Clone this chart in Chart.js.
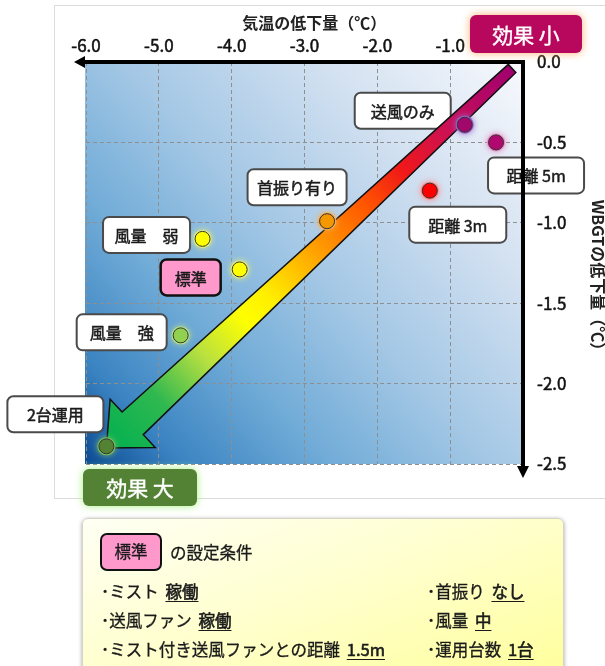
<!DOCTYPE html>
<html lang="ja">
<head>
<meta charset="utf-8">
<script src="https://cdn.jsdelivr.net/npm/chart.js@4.4.1/dist/chart.umd.min.js"></script>
<style>
  body { margin: 0; background: #fff; }
  #wrap { position: relative; width: 605px; height: 666px; overflow: hidden; font-family: "Noto Sans CJK JP", sans-serif; }
  #chart { position: absolute; left: 0; top: 0; }
  #note {
    position: absolute; left: 82px; top: 518px; width: 482px; height: 160px; box-sizing: border-box;
    border: 1px solid #d4d4c4; border-radius: 6px;
    background: linear-gradient(160deg, #fffff4 0%, #ffffcc 50%, #ffff9c 100%);
    box-shadow: 0 1px 4px rgba(0,0,0,.35);
    font-size: 16.5px; color: #1a1a1a; -webkit-text-stroke: 0.3px #1a1a1a;
  }
  #note .std {
    position: absolute; left: 17px; top: 14px; width: 62px; height: 38px; box-sizing: border-box;
    border: 2.5px solid #111; border-radius: 7px; background: #ff99cc;
    text-align: center; line-height: 33px;
  }
  #note .head { position: absolute; left: 87px; top: 19px; line-height: 29px; }
  #note .row { position: absolute; line-height: 29px; white-space: nowrap; }
  #note u { text-underline-offset: 3px; -webkit-text-stroke: 0.6px #1a1a1a; margin-left: 3px; }
</style>
</head>
<body>
<div id="wrap">
  <canvas id="chart" width="605" height="666"></canvas>
  <div id="note">
    <div class="std">標準</div>
    <div class="head">の設定条件</div>
    <div class="row" style="left:18px;top:58px">･ミスト <u>稼働</u></div>
    <div class="row" style="left:18px;top:87px">･送風ファン <u>稼働</u></div>
    <div class="row" style="left:18px;top:116px">･ミスト付き送風ファンとの距離 <u>1.5m</u></div>
    <div class="row" style="left:344px;top:58px">･首振り <u>なし</u></div>
    <div class="row" style="left:344px;top:87px">･風量 <u>中</u></div>
    <div class="row" style="left:344px;top:116px">･運用台数 <u>1台</u></div>
  </div>
</div>
<script>
const FONT = '"Noto Sans CJK JP", sans-serif';

// 条件ごとの低下量
const conditions = ['送風のみ', '距離 5m', '距離 3m', '首振り有り', '風量　弱', '標準', '風量　強', '2台運用'];
const airTempDrop = [-0.80, -0.37, -1.28, -2.69, -4.40, -3.89, -4.70, -5.72];
const wbgtDrop = [-0.39, -0.50, -0.80, -0.99, -1.10, -1.29, -1.70, -2.39];

// 効果の矢印 (始点・終点, データ座標)
const arrowFrom = [-0.15, -0.04];
const arrowTo = [-5.72, -2.40];

// 点の色と光彩
const pointFill = ['#a0086c', '#b0086e', '#ff0000', '#f39800', '#ffff00', '#ffff00', '#92d050', '#548235'];
const pointGlow = ['#9a66cc', '#e68cc4', '#ff8a8a', '#f7ae55', '#e6f07a', '#e6f07a', '#b8e08a', '#7cc060'];

// ラベル枠: 点からのずれ(中心), 幅
const labelOffset = [[-62, -14], [40, 33], [28, 34], [-30, -34], [-56, -4], [-49, 8], [-59, -3], [-51, -32]];
const labelWidth = [96, 96, 97, 99, 87, 60, 90, 96];

function rrect(ctx, x, y, w, h, r) {
  ctx.beginPath();
  ctx.moveTo(x + r, y);
  ctx.arcTo(x + w, y, x + w, y + h, r);
  ctx.arcTo(x + w, y + h, x, y + h, r);
  ctx.arcTo(x, y + h, x, y, r);
  ctx.arcTo(x, y, x + w, y, r);
  ctx.closePath();
}

// 少し太めに見せる文字描画
function heavyText(ctx, text, x, y, color, width) {
  ctx.fillStyle = color;
  ctx.strokeStyle = color;
  ctx.lineWidth = width;
  ctx.lineJoin = 'round';
  ctx.strokeText(text, x, y);
  ctx.fillText(text, x, y);
}

const backdrop = {
  id: 'backdrop',
  beforeDraw(chart) {
    const { ctx, chartArea: a } = chart;
    ctx.save();
    ctx.strokeStyle = '#dcdcdc';
    ctx.lineWidth = 1;
    ctx.strokeRect(54.5, 5.5, 700, 493);
    const g = ctx.createLinearGradient(a.left, a.bottom, a.right, a.top);
    g.addColorStop(0, '#0b4a94');
    g.addColorStop(0.12, '#3b84c2');
    g.addColorStop(0.3, '#70abd7');
    g.addColorStop(0.5, '#a3c7e5');
    g.addColorStop(0.75, '#d3e1f1');
    g.addColorStop(1, '#f8f9fd');
    ctx.fillStyle = g;
    ctx.fillRect(a.left - 1, a.top, a.width + 1, a.height);
    ctx.restore();
  }
};

const decorations = {
  id: 'decorations',
  beforeDatasetsDraw(chart) {
    const { ctx, scales: { x, y } } = chart;
    const pts = chart.getDatasetMeta(0).data;
    ctx.save();

    // ラベル枠
    pts.forEach((p, i) => {
      const w = labelWidth[i], h = 36;
      const cx = p.x + labelOffset[i][0], cy = p.y + labelOffset[i][1];
      const std = conditions[i] === '標準';
      rrect(ctx, cx - w / 2, cy - h / 2, w, h, 6);
      ctx.fillStyle = std ? '#ff99cc' : '#fff';
      ctx.fill();
      ctx.lineWidth = std ? 2.5 : 2;
      ctx.strokeStyle = std ? '#111' : '#4a4a4a';
      ctx.stroke();
      ctx.font = '16px ' + FONT;
      ctx.textAlign = 'center';
      ctx.textBaseline = 'middle';
      heavyText(ctx, conditions[i], cx, cy + 1, '#1a1a1a', 0.5);
    });

    // グラデーション矢印
    const sx = x.getPixelForValue(arrowFrom[0]), sy = y.getPixelForValue(arrowFrom[1]);
    const tx = x.getPixelForValue(arrowTo[0]), ty = y.getPixelForValue(arrowTo[1]);
    const len = Math.hypot(tx - sx, ty - sy);
    const ux = (tx - sx) / len, uy = (ty - sy) / len;
    const nx = -uy, ny = ux;
    const w0 = 5.5, w1 = 15.5, head = 33, headLen = 36;
    const bx = tx - ux * headLen, by = ty - uy * headLen;
    const shape = [
      [sx + nx * w0, sy + ny * w0],
      [bx + nx * w1, by + ny * w1],
      [bx + nx * head, by + ny * head],
      [tx, ty],
      [bx - nx * head, by - ny * head],
      [bx - nx * w1, by - ny * w1],
      [sx - nx * w0, sy - ny * w0]
    ];
    ctx.beginPath();
    shape.forEach(([px, py], k) => k ? ctx.lineTo(px, py) : ctx.moveTo(px, py));
    ctx.closePath();
    const g = ctx.createLinearGradient(sx, sy, tx, ty);
    g.addColorStop(0, '#a0006e');
    g.addColorStop(0.15, '#c8105a');
    g.addColorStop(0.27, '#f01818');
    g.addColorStop(0.36, '#ff5500');
    g.addColorStop(0.47, '#ff9900');
    g.addColorStop(0.6, '#ffee00');
    g.addColorStop(0.66, '#ffff00');
    g.addColorStop(0.76, '#b8e040');
    g.addColorStop(0.87, '#30b850');
    g.addColorStop(1, '#00b050');
    ctx.fillStyle = g;
    ctx.fill();
    ctx.lineWidth = 1.5;
    ctx.strokeStyle = '#111';
    ctx.lineJoin = 'miter';
    ctx.stroke();

    // 点の光彩
    pts.forEach((p, i) => {
      ctx.shadowColor = pointGlow[i];
      ctx.shadowBlur = 6;
      ctx.fillStyle = pointGlow[i];
      ctx.beginPath();
      ctx.arc(p.x, p.y, 9, 0, Math.PI * 2);
      ctx.fill();
    });
    ctx.restore();
  },
  afterDatasetsDraw(chart) {
    const { ctx, chartArea: a } = chart;
    ctx.save();

    // 軸の矢印
    ctx.strokeStyle = '#000';
    ctx.fillStyle = '#000';
    ctx.lineWidth = 4;
    ctx.beginPath();
    ctx.moveTo(a.right + 2, a.top);
    ctx.lineTo(a.left - 3, a.top);
    ctx.moveTo(a.right, a.top);
    ctx.lineTo(a.right, a.bottom + 3);
    ctx.stroke();
    ctx.beginPath();
    ctx.moveTo(a.left - 12, a.top);
    ctx.lineTo(a.left - 1, a.top - 6);
    ctx.lineTo(a.left - 1, a.top + 6);
    ctx.closePath();
    ctx.moveTo(a.right, a.bottom + 14);
    ctx.lineTo(a.right - 6, a.bottom + 2);
    ctx.lineTo(a.right + 6, a.bottom + 2);
    ctx.closePath();
    ctx.fill();

    // 効果 小 / 効果 大
    const badges = [
      { text: '効果 小', x: a.right - 53, y: a.top - 47, w: 112, h: 38, fill: '#b8085e', glow: '#ffb070' },
      { text: '効果 大', x: a.left - 3, y: a.bottom + 5, w: 114, h: 37, fill: '#548235', glow: '#a8f080' }
    ];
    badges.forEach(b => {
      ctx.save();
      ctx.shadowColor = b.glow;
      ctx.shadowBlur = 8;
      rrect(ctx, b.x, b.y, b.w, b.h, 6);
      ctx.fillStyle = b.fill;
      ctx.fill();
      ctx.restore();
      ctx.font = '21px ' + FONT;
      ctx.textAlign = 'center';
      ctx.textBaseline = 'middle';
      heavyText(ctx, b.text, b.x + b.w / 2, b.y + b.h / 2 + 1, '#fff', 0.4);
    });
    ctx.restore();
  }
};

const tickFont = { family: FONT, size: 17 };
const titleFont = { family: FONT, size: 16, weight: 'bold' };

new Chart(document.getElementById('chart'), {
  type: 'scatter',
  data: {
    datasets: [{
      data: airTempDrop.map((v, i) => ({ x: v, y: wbgtDrop[i] })),
      pointRadius: 7.5,
      pointBackgroundColor: pointFill,
      pointBorderColor: '#333',
      pointBorderWidth: 1
    }]
  },
  options: {
    responsive: false,
    animation: false,
    events: [],
    layout: { padding: { left: 86, top: 0, right: 0, bottom: 202 } },
    plugins: { legend: { display: false }, tooltip: { enabled: false } },
    scales: {
      x: {
        type: 'linear',
        position: 'top',
        min: -6, max: 0,
        ticks: {
          stepSize: 1,
          color: '#111',
          font: tickFont,
          textStrokeColor: '#111',
          textStrokeWidth: 0.5,
          padding: 6,
          callback: v => v === 0 ? '' : v.toFixed(1)
        },
        grid: { color: '#8f8f8f', lineWidth: 1, drawTicks: false },
        border: { display: false, dash: [4, 3] },
        title: {
          display: true,
          text: '　 気温の低下量（℃）',
          color: '#222',
          font: titleFont,
          padding: { top: 13, bottom: 0 }
        },
        afterFit: s => { s.height = 62; }
      },
      y: {
        type: 'linear',
        position: 'right',
        min: -2.5, max: 0,
        ticks: {
          stepSize: 0.5,
          color: '#111',
          font: tickFont,
          textStrokeColor: '#111',
          textStrokeWidth: 0.5,
          padding: 14,
          callback: v => v.toFixed(1)
        },
        grid: { color: '#8f8f8f', lineWidth: 1, drawTicks: false },
        border: { display: false, dash: [4, 3] },
        title: {
          display: true,
          text: '　　WBGTの低下量（℃）',
          color: '#222',
          font: titleFont,
          padding: { top: -3, bottom: 0 }
        },
        afterFit: s => { s.width = 82; }
      }
    }
  },
  plugins: [backdrop, decorations]
});
</script>
</body>
</html>
